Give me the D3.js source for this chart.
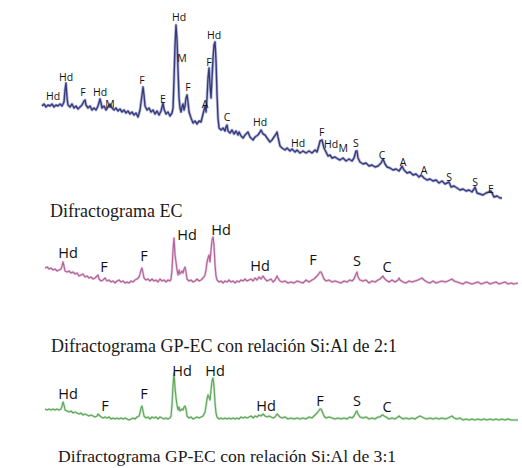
<!DOCTYPE html>
<html>
<head>
<meta charset="utf-8">
<script src="https://cdn.jsdelivr.net/npm/d3@7"></script>
<style>
  body { margin: 0; background: #fff; }
  .pk { font-family: "Open Sans", sans-serif; fill: #111; text-anchor: middle; }
  .cap { font-family: "Liberation Serif", serif; fill: #1a1a1a; }
</style>
</head>
<body>
<svg class="plot"></svg>
<script>
// EC diffractogram: [2theta, counts]
const ecPattern = [
  [5.25,470],[5.5,480],[5.75,465],[6,475],[6.25,470],[6.5,480],[6.75,465],[7,475],[7.25,470],[7.5,480],
  [7.75,470],[8,490],[8.13,550],[8.25,585],[8.38,510],[8.5,475],[8.75,465],[9,480],[9.25,460],[9.5,470],
  [9.75,455],[10,465],[10.25,475],[10.5,495],[10.63,500],[10.75,475],[11,460],[11.25,470],[11.5,450],[11.75,460],
  [12,450],[12.25,470],[12.5,505],[12.63,485],[12.75,460],[13,470],[13.25,450],[13.5,465],[13.75,480],[14,460],
  [14.25,450],[14.5,460],[14.75,445],[15,455],[15.25,440],[15.5,450],[15.75,435],[16,445],[16.25,430],[16.5,440],
  [16.75,425],[17,435],[17.25,415],[17.5,450],[17.75,525],[17.88,565],[18,525],[18.13,470],[18.38,450],[18.63,460],
  [18.88,440],[19.13,450],[19.38,430],[19.63,445],[19.88,425],[20.13,445],[20.38,485],[20.5,455],[20.75,430],[21,440],
  [21.25,420],[21.5,435],[21.63,460],[21.75,600],[21.88,775],[22,875],[22.13,800],[22.25,650],[22.38,510],[22.5,460],
  [22.63,440],[22.75,465],[22.88,480],[23,450],[23.13,470],[23.25,510],[23.38,525],[23.5,490],[23.63,440],[23.88,410],
  [24.13,385],[24.38,395],[24.63,380],[24.88,395],[25.13,390],[25.38,430],[25.5,450],[25.63,470],[25.75,440],[25.88,510],
  [26,610],[26.13,660],[26.25,575],[26.38,510],[26.5,610],[26.63,710],[26.75,775],[26.88,790],[27,700],[27.13,525],
  [27.25,410],[27.38,360],[27.63,350],[27.88,360],[28.13,345],[28.25,365],[28.38,375],[28.5,345],[28.75,335],[29,350],
  [29.25,330],[29.5,345],[29.75,325],[29.88,340],[30.13,320],[30.38,310],[30.63,325],[31,340],[31.25,315],[31.63,300],
  [31.88,315],[32.25,325],[32.5,340],[32.63,350],[32.88,330],[33.13,325],[33.38,310],[33.75,290],[34,300],[34.25,315],
  [34.5,330],[34.63,340],[34.75,315],[35,270],[35.25,260],[35.63,250],[35.88,260],[36.25,245],[36.5,255],[36.88,240],
  [37.13,250],[37.5,235],[37.88,245],[38.25,235],[38.63,245],[39,235],[39.38,250],[39.63,240],[39.88,275],[40,295],
  [40.25,300],[40.5,260],[40.75,240],[41,220],[41.25,225],[41.5,210],[41.88,215],[42.25,205],[42.5,200],[42.88,210],
  [43.25,195],[43.63,205],[44,195],[44.25,210],[44.5,245],[44.63,245],[44.75,210],[45,190],[45.38,180],[45.75,185],
  [46.13,170],[46.5,175],[46.88,165],[47.25,170],[47.63,185],[47.88,205],[48.13,180],[48.38,165],[48.75,160],[49.13,150],
  [49.5,155],[49.88,145],[50.13,160],[50.25,170],[50.5,150],[50.88,135],[51.25,140],[51.63,125],[52,130],[52.38,115],
  [52.63,125],[52.75,120],[53,110],[53.38,100],[53.75,105],[54.13,95],[54.5,100],[54.88,85],[55.25,95],[55.63,80],
  [55.88,85],[56.13,90],[56.38,65],[56.75,70],[57.13,60],[57.5,50],[57.88,55],[58.25,45],[58.63,50],[59,40],
  [59.25,55],[59.38,65],[59.63,35],[60,30],[60.38,25],[60.75,35],[61.13,40],[61.38,45],[61.75,15],[62.13,20],
  [62.5,10],[62.75,10]
]
const ecPeaks = [
  ['Hd',6.63,500],['Hd',8.25,595],['F',10.38,520],['Hd',12.5,520],['M',13.75,460],['F',17.75,580],
  ['E',20.38,485],['Hd',22.38,895],['M',22.75,690],['F',23.5,545],['A',25.63,460],['F',26.13,670],
  ['Hd',26.75,805],['C',28.38,395],['Hd',32.5,370],['Hd',37.25,265],['F',40.2,320],['Hd',41.4,262],
  ['M',42.9,240],['S',44.5,265],['C',47.75,205],['A',50.38,170],['A',53,130],['S',56.13,95],
  ['S',59.38,70],['E',61.38,35]
]

// GP-EC diffractograms share one 2theta grid
const gpTheta = [
  5.63,5.88,6.13,6.38,6.63,6.88,7.13,7.38,7.63,7.75,
  7.88,8,8.13,8.38,8.63,8.88,9.13,9.38,9.63,9.88,
  10.13,10.38,10.63,10.88,11.13,11.38,11.63,11.88,12.13,12.25,
  12.38,12.63,12.88,13.13,13.38,13.63,13.88,14.13,14.38,14.63,
  14.88,15.13,15.38,15.63,15.88,16.13,16.38,16.63,16.88,17.13,
  17.38,17.5,17.63,17.75,17.88,18,18.25,18.5,18.75,19,
  19.25,19.5,19.75,20,20.25,20.5,20.75,21,21.25,21.38,
  21.5,21.63,21.75,21.88,22,22.13,22.25,22.38,22.5,22.75,
  22.88,23,23.13,23.25,23.38,23.63,23.88,24.13,24.38,24.63,
  24.88,25.13,25.38,25.63,25.75,25.88,26,26.13,26.25,26.38,
  26.5,26.63,26.75,26.88,27,27.13,27.38,27.63,27.88,28.13,
  28.38,28.63,28.88,29.13,29.38,29.63,29.88,30.13,30.38,30.63,
  30.88,31.13,31.38,31.63,31.88,32.13,32.38,32.63,32.88,33.13,
  33.38,33.63,33.88,34.13,34.38,34.63,34.75,35,35.25,35.63,
  36,36.38,36.75,37.13,37.5,37.88,38.25,38.63,39,39.25,
  39.5,39.75,40,40.13,40.25,40.5,40.75,41.13,41.5,41.88,
  42.25,42.63,43,43.38,43.75,44,44.25,44.5,44.63,44.75,
  45,45.38,45.75,46.13,46.5,46.88,47.25,47.5,47.75,47.88,
  48,48.25,48.63,49,49.38,49.75,49.88,50,50.38,50.75,
  51.13,51.5,51.88,52.25,52.5,52.75,53,53.38,53.75,54.13,
  54.5,54.88,55.25,55.63,56,56.25,56.5,56.75,57.13,57.5,
  57.88,58.25,58.63,59,59.38,59.75,60.13,60.5,60.88,61.25,
  61.63,62,62.38,62.75,63.13,63.5,63.88,64.25,64.75
]
const gp21Counts = [
  220,230,210,220,200,210,190,200,210,240,
  280,240,190,180,190,170,180,160,170,140,
  150,160,130,140,120,130,110,120,140,150,
  110,90,100,120,90,100,80,90,70,90,
  100,80,90,70,80,70,90,80,100,110,
  130,160,200,220,170,120,100,110,90,110,
  90,100,80,110,90,100,80,100,90,110,
  200,400,520,350,280,200,150,200,160,190,
  170,210,230,180,110,90,100,80,90,110,
  90,100,120,150,200,280,320,350,280,400,
  500,530,450,250,140,100,80,90,70,90,
  80,100,80,90,70,90,80,100,90,110,
  90,100,110,90,120,100,130,110,140,110,
  90,100,110,80,100,140,120,90,80,90,
  70,80,70,90,80,70,100,80,100,110,
  130,150,180,180,160,110,90,100,80,90,
  80,70,90,80,100,90,110,160,180,130,
  100,90,100,70,90,80,100,110,130,140,
  120,100,80,100,80,100,120,100,80,70,
  90,80,90,100,110,120,100,80,70,90,
  70,80,90,80,90,100,110,90,80,70,
  60,80,70,60,70,80,60,70,80,60,
  70,80,60,70,80,60,70,60,70
]
const gp31Counts = [
  210,200,210,200,210,200,210,200,210,240,
  280,250,200,190,180,190,170,180,170,160,
  170,150,160,150,140,150,140,130,140,160,
  150,130,120,130,120,130,110,120,110,120,
  110,120,110,120,110,100,110,120,110,130,
  140,170,220,240,190,140,120,130,110,130,
  120,130,110,130,120,110,120,110,120,140,
  250,450,570,420,320,250,200,230,190,210,
  200,230,240,210,140,120,130,110,120,130,
  120,130,140,180,240,310,350,330,300,400,
  490,520,440,270,170,130,110,120,110,120,
  110,120,110,120,110,120,110,130,120,130,
  120,130,140,120,140,130,150,140,160,140,
  130,140,130,120,130,160,150,130,120,130,
  110,120,110,120,110,120,110,130,120,140,
  160,180,210,210,190,140,120,130,120,110,
  120,110,120,110,130,120,140,180,190,160,
  130,120,130,110,120,110,130,130,150,150,
  140,130,110,120,110,130,140,130,110,120,
  110,120,110,130,140,130,120,110,120,110,
  120,110,120,110,120,130,140,120,110,120,
  100,110,100,110,100,110,100,110,100,110,
  100,110,100,110,100,110,100,100,100
]
const gp21Peaks = [
  ['Hd',8.5,320],['F',13,180],['F',18,290],['Hd',23.38,500],['Hd',27.63,550],
  ['Hd',32.5,190],['F',39.13,250],['S',44.63,240],['C',48.38,180]
]
const gp31Peaks = [
  ['Hd',8.5,310],['F',13.13,190],['F',18,310],['Hd',22.75,540],['Hd',26.88,540],
  ['Hd',33.25,190],['F',40,240],['S',44.63,240],['C',48.38,180]
]
const captions = [
  'Difractograma EC',
  'Difractograma GP-EC con relación Si:Al de 2:1',
  'Difractograma GP-EC con relación Si:Al de 3:1'
]

const dimen = { width: 522, height: 468 }

const xScale = d3.scaleLinear()
  .domain([5, 65])
  .range([40, 520])
const yEC = d3.scaleLinear().domain([0, 1000]).range([200, 0])
const y21 = d3.scaleLinear().domain([0, 1000]).range([290, 190])
const y31 = d3.scaleLinear().domain([0, 1000]).range([430, 330])

const canvas = d3.select('.plot')
    .attr('width', dimen.width)
    .attr('height', dimen.height)

const panels = [
  { data: ecPattern, peaks: ecPeaks, y: yEC, color: '#363b7e', halo: '#b9bcd8', w: 1.4, hw: 3, fs: 10.5 },
  { data: gpTheta.map((t, i) => [t, gp21Counts[i]]), peaks: gp21Peaks, y: y21, color: '#b2629a', halo: '#e6c3d9', w: 1.1, hw: 2.4, fs: 14.5 },
  { data: gpTheta.map((t, i) => [t, gp31Counts[i]]), peaks: gp31Peaks, y: y31, color: '#5ea65c', halo: '#c3e2bf', w: 1.1, hw: 2.4, fs: 14.5 },
]

// Draw patterns
// =============
panels.forEach(p => {
  const line = d3.line()
    .x(d => xScale(d[0]))
    .y(d => p.y(d[1]))
  const g = canvas.append('g')
  g.append('path')
      .attr('d', line(p.data))
      .attr('fill', 'none')
      .attr('stroke', p.halo)
      .attr('stroke-width', p.hw)
      .attr('stroke-linejoin', 'round')
  g.append('path')
      .attr('d', line(p.data))
      .attr('fill', 'none')
      .attr('stroke', p.color)
      .attr('stroke-width', p.w)
      .attr('stroke-linejoin', 'round')
  g.selectAll('text')
      .data(p.peaks)
    .enter().append('text')
      .attr('class', 'pk')
      .attr('x', d => xScale(d[1]))
      .attr('y', d => p.y(d[2]))
      .attr('font-size', p.fs)
      .text(d => d[0])
})

// Captions
// ========
const capPos = [[50, 217, 18], [51, 352, 18], [58, 462, 17.6]]
canvas.selectAll('text.cap')
    .data(captions)
  .enter().append('text')
    .attr('class', 'cap')
    .attr('x', (d, i) => capPos[i][0])
    .attr('y', (d, i) => capPos[i][1])
    .attr('font-size', (d, i) => capPos[i][2])
    .text(d => d)
</script>
</body>
</html>
